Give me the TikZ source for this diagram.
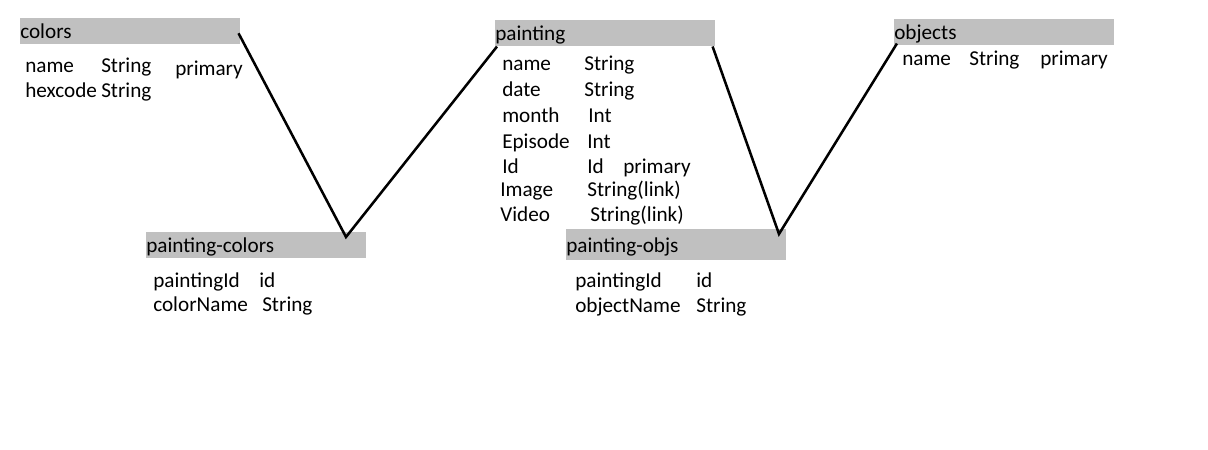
\documentclass[tikz,border=0pt]{standalone}
\usepackage{fontspec}
\setmainfont{Carlito}
\definecolor{hdrgray}{HTML}{C0C0C0}
\begin{document}
\begin{tikzpicture}[x=0.75pt,y=-0.75pt,
  font=\fontsize{15.9}{19}\selectfont,
  hdr/.style={fill=hdrgray, anchor=north west, inner sep=0pt, text width=165pt, align=left,
              text height=15pt, text depth=4.5pt},
  fld/.style={anchor=base west, inner sep=0pt},
  conn/.style={draw=black, line width=1.9pt, line join=miter}]
\useasboundingbox[fill=white] (0,0) rectangle (1208,450);

% headers
\node[hdr] (colors) at (20,18) {colors};
\node[hdr] (painting) at (495,20) {painting};
\node[hdr] (objects) at (894,19) {objects};
\node[hdr] (pc) at (146,232) {painting-colors};
\node[hdr, text height=17.25pt, text depth=6pt] (po) at (566,229) {painting-objs};

% colors fields
\node[fld] (c1a) at (25,72) {name};
\node[fld] (c1b) at (101,72) {String};
\node[fld] (c1c) at (175,75) {primary};
\node[fld] (c2a) at (25,97) {hexcode};
\node[fld] (c2b) at (101,97) {String};

% painting fields
\node[fld] (p1a) at (502,70) {name};
\node[fld] (p1b) at (584,70) {String};
\node[fld] (p2a) at (502,96) {date};
\node[fld] (p2b) at (584,96) {String};
\node[fld] (p3a) at (502,122) {month};
\node[fld] (p3b) at (588,122) {Int};
\node[fld] (p4a) at (502,148) {Episode};
\node[fld] (p4b) at (587,148) {Int};
\node[fld] (p5a) at (502,173) {Id};
\node[fld] (p5b) at (587,173) {Id};
\node[fld] (p5c) at (623,173) {primary};
\node[fld] (p6a) at (500,196) {Image};
\node[fld] (p6b) at (587,196) {String(link)};
\node[fld] (p7a) at (500,221) {Video};
\node[fld] (p7b) at (590,221) {String(link)};

% objects fields
\node[fld] (o1a) at (902,65) {name};
\node[fld] (o1b) at (969,65) {String};
\node[fld] (o1c) at (1040,65) {primary};

% painting-colors fields
\node[fld] (pc1a) at (153,287) {paintingId};
\node[fld] (pc1b) at (259,287) {id};
\node[fld] (pc2a) at (153,311) {colorName};
\node[fld] (pc2b) at (262,311) {String};

% painting-objs fields
\node[fld] (po1a) at (575,287) {paintingId};
\node[fld] (po1b) at (696,287) {id};
\node[fld] (po2a) at (575,312) {objectName};
\node[fld] (po2b) at (696,312) {String};

% connectors
\coordinate (v1) at (346,237);
\coordinate (v2) at (779,234);
\draw[conn] ([xshift=-1.5pt,yshift=-1.5pt]colors.east) -- (v1) -- ([xshift=1.5pt]painting.south west);
\draw[conn] ([xshift=-2.2pt]painting.south east) -- (v2) -- ([xshift=2.2pt,yshift=1.5pt]objects.south west);
\end{tikzpicture}
\end{document}
